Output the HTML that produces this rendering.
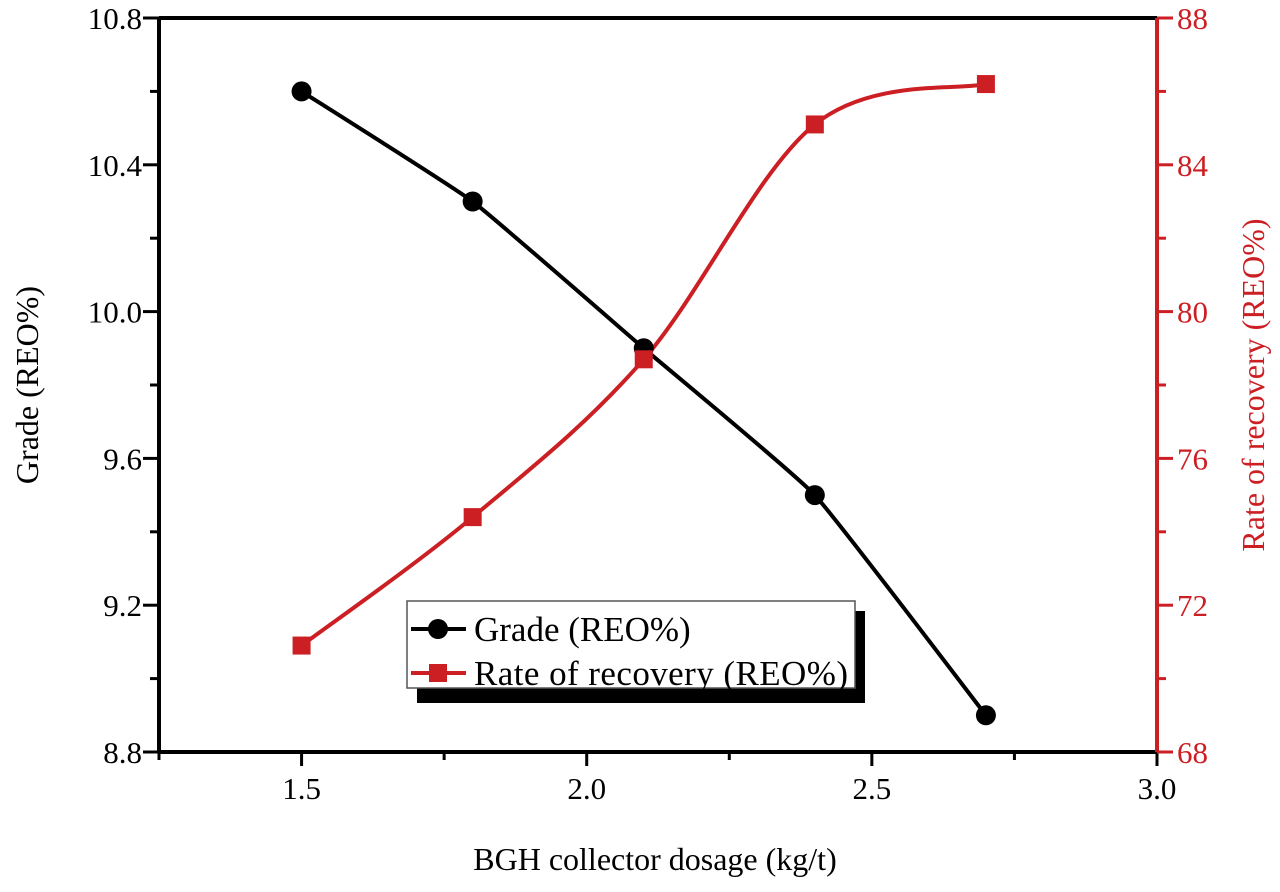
<!DOCTYPE html>
<html><head><meta charset="utf-8"><style>
body{margin:0;background:#fff}
svg text{font-family:"Liberation Serif",serif}
</style></head><body>
<svg id="c" width="1280" height="887" viewBox="0 0 1280 887" xmlns="http://www.w3.org/2000/svg"></svg>
<script>
const xVals=[1.5,1.8,2.1,2.4,2.7];
const grade=[10.6,10.3,9.9,9.5,8.9];
const recovery=[70.9,74.4,78.7,85.1,86.2];
const xTicks=[1.5,2.0,2.5,3.0];
const xTickLabels=["1.5","2.0","2.5","3.0"];
const yLTicks=[8.8,9.2,9.6,10.0,10.4,10.8];
const yLTickLabels=["8.8","9.2","9.6","10.0","10.4","10.8"];
const yRTicks=[68,72,76,80,84,88];
const yRTickLabels=["68","72","76","80","84","88"];

const L=159,R=1157,T=18,B=752;
const sx=v=>L+(v-1.25)/(3.0-1.25)*(R-L);
const syL=v=>B-(v-8.8)/(10.8-8.8)*(B-T);
const syR=v=>B-(v-68)/(88-68)*(B-T);
const svg=document.getElementById('c');
const NS="http://www.w3.org/2000/svg";
function mk(t,a,name){const e=document.createElementNS(NS,t);for(const k in a)e.setAttribute(k,a[k]);


svg.appendChild(e);return e;}
mk('line',{x1:L,y1:T,x2:R,y2:T,stroke:'#000','stroke-width':4},'top-axis');
mk('line',{x1:L,y1:T,x2:L,y2:B,stroke:'#000','stroke-width':4},'left-axis');
mk('line',{x1:L,y1:B,x2:R,y2:B,stroke:'#000','stroke-width':4},'x-axis');
mk('line',{x1:R,y1:T,x2:R,y2:B,stroke:'#cc1f24','stroke-width':4},'right-axis');
for(let v=1.25;v<=3.001;v+=0.25){const maj=Math.abs((v*2)%1)<0.01;
mk('line',{x1:sx(v),y1:B,x2:sx(v),y2:B+(maj?14:8),stroke:'#000','stroke-width':3},'x-tick');}
xTicks.forEach((v,i)=>{const t=mk('text',{x:sx(v),y:B+47,'font-size':31,'text-anchor':'middle',fill:'#000'},'x-tick-label');t.textContent=xTickLabels[i];});
for(let v=8.8;v<=10.801;v+=0.2){mk('line',{x1:L,y1:syL(v),x2:L-(Math.round(v*10)%4===0?16:9),y2:syL(v),stroke:'#000','stroke-width':3},'y-left-tick');}
yLTicks.forEach((v,i)=>{const t=mk('text',{x:L-17,y:syL(v)+11,'font-size':31,'text-anchor':'end',fill:'#000'},'y-left-tick-label');t.textContent=yLTickLabels[i];});
for(let v=68;v<=88;v+=2){mk('line',{x1:R,y1:syR(v),x2:R+((v%4===0)?16:9),y2:syR(v),stroke:'#cc1f24','stroke-width':3},'y-right-tick');}
yRTicks.forEach((v,i)=>{const t=mk('text',{x:R+20,y:syR(v)+11,'font-size':31,'text-anchor':'start',fill:'#cc1f24'},'y-right-tick-label');t.textContent=yRTickLabels[i];});
let t=mk('text',{x:655,y:870,'font-size':32,'text-anchor':'middle'},'x-axis-title');t.textContent='BGH collector dosage (kg/t)';
t=mk('text',{x:0,y:0,'font-size':32,'text-anchor':'middle',transform:'translate(38,385) rotate(-90)'},'y-left-title');t.textContent='Grade (REO%)';
t=mk('text',{x:0,y:0,'font-size':32,'text-anchor':'middle',fill:'#cc1f24',transform:'translate(1264,385) rotate(-90)'},'y-right-title');t.textContent='Rate of recovery (REO%)';
function spline(pts,k){let d=`M${pts[0][0]},${pts[0][1]}`;
for(let i=0;i<pts.length-1;i++){const p0=pts[Math.max(i-1,0)],p1=pts[i],p2=pts[i+1],p3=pts[Math.min(i+2,pts.length-1)];
const c1=[p1[0]+(p2[0]-p0[0])*k,p1[1]+(p2[1]-p0[1])*k],c2=[p2[0]-(p3[0]-p1[0])*k,p2[1]-(p3[1]-p1[1])*k];
d+=` C${c1[0]},${c1[1]} ${c2[0]},${c2[1]} ${p2[0]},${p2[1]}`;}return d;}
const gp=xVals.map((x,i)=>[sx(x),syL(grade[i])]);
const rp=xVals.map((x,i)=>[sx(x),syR(recovery[i])]);
mk('path',{d:spline(gp,0.06),fill:'none',stroke:'#000','stroke-width':4},'grade-line');
mk('path',{d:spline(rp,1/6),fill:'none',stroke:'#cc1f24','stroke-width':4},'recovery-line');
gp.forEach(p=>mk('circle',{cx:p[0],cy:p[1],r:10,fill:'#000'},'grade-point'));
rp.forEach(p=>mk('rect',{x:p[0]-9,y:p[1]-9,width:18,height:18,fill:'#cc1f24'},'recovery-point'));
mk('rect',{x:417,y:611,width:448,height:92,fill:'#000'},'legend-shadow');
mk('rect',{x:407,y:601,width:448,height:87,fill:'#fff',stroke:'#555','stroke-width':1.5},'legend-box');
mk('line',{x1:411,y1:629,x2:466,y2:629,stroke:'#000','stroke-width':4},'legend-grade-line');
mk('circle',{cx:438,cy:629,r:10,fill:'#000'},'legend-grade-marker');
t=mk('text',{x:474,y:641,'font-size':35},'legend-grade-label');t.textContent='Grade (REO%)';
mk('line',{x1:411,y1:673,x2:466,y2:673,stroke:'#cc1f24','stroke-width':4},'legend-recovery-line');
mk('rect',{x:429,y:664,width:18,height:18,fill:'#cc1f24'},'legend-recovery-marker');
t=mk('text',{x:474,y:685,'font-size':35,textLength:374},'legend-recovery-label');t.textContent='Rate of recovery (REO%)';
</script>
</body></html>
